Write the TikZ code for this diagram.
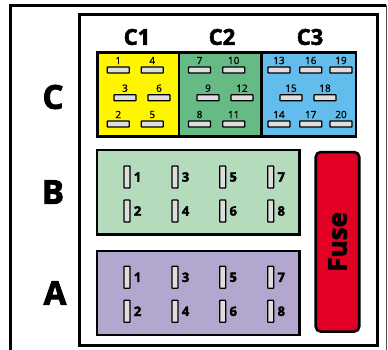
\documentclass[tikz,border=0pt]{standalone}
\usepackage{fontspec}
\setmainfont{Open Sans}
\newfontfamily\heavyfont{Open Sans}[BoldFont=*, BoldFeatures={FakeBold=0}, UprightFont=* Bold, UprightFeatures={FakeBold=2.5}]
\newfontfamily\numfont{Open Sans}[UprightFeatures={FakeBold=1}]
\usetikzlibrary{positioning}

\tikzset{
    block/.style={draw=black, line width=2.8pt},
    hslot/.style={draw=black, fill=black!13, line width=1.3pt, rounded corners=0.6pt, minimum width=22pt, minimum height=6pt, inner sep=0pt},
    vslot/.style={draw=black, fill=black!13, line width=1.3pt, rounded corners=0.6pt, minimum width=6pt, minimum height=22pt, inner sep=0pt},
    hnum/.style={inner sep=0pt, font=\numfont\fontsize{10}{10}\selectfont},
    vnum/.style={inner sep=0pt, font=\heavyfont\fontsize{13}{13}\selectfont},
    head/.style={inner sep=0pt, font=\heavyfont\fontsize{22}{22}\selectfont},
    side/.style={inner sep=0pt, font=\heavyfont\fontsize{33}{33}\selectfont}
}
\definecolor{blockyellow}{HTML}{FFF500}
\definecolor{blockgreen}{HTML}{66BB85}
\definecolor{blockblue}{HTML}{62BCEC}
\definecolor{blockmint}{HTML}{B5DBBD}
\definecolor{blocklilac}{HTML}{B4A7CF}
\definecolor{fusered}{HTML}{E30025}

\begin{document}
\begin{tikzpicture}[x=1pt, y=-1pt]
    \useasboundingbox (0,0) rectangle (388,350);

    % Outer frame, open at the bottom
    \draw[line width=3pt] (10.5,350) -- (10.5,5.5) -- (386,5.5);
    \draw[black!70, line width=1.4pt] (386.5,5) -- (386.5,350);

    % Inner frame
    \draw[line width=3pt] (79,14.5) rectangle (377,345);

    % Row C, three blocks
    \draw[block, fill=blockyellow] (97.5,52.7) rectangle (179,136.7);
    \draw[block, fill=blockgreen] (179,52.7) rectangle (261.7,136.7);
    \draw[block, fill=blockblue] (261.7,52.7) rectangle (356,136.7);

    % Row C, slots with their numbers
    \foreach \n/\x/\y in {1/118.3/70, 4/152.3/70, 3/125/97.7, 6/159/97.7, 2/118.3/124, 5/152.3/124,
                          7/199.5/70, 10/233.7/70, 9/208/97.7, 12/242/97.7, 8/199.5/124, 11/233.7/124,
                          13/279/70, 16/310.7/70, 19/341/70, 15/291/97.7, 18/325/97.7, 14/279/124, 17/310.7/124, 20/341/124} {
        \node[hslot] (slot\n) at (\x,\y) {};
        \node[hnum, above=2pt of slot\n] (num\n) {\n};
    }

    % Rows B and A
    \draw[block, fill=blockmint] (97,150) rectangle (299.5,234.5);
    \draw[block, fill=blocklilac] (97,251) rectangle (299.5,335);

    \foreach \r/\ya/\yb in {b/177/211, a/277.3/311.3} {
        \foreach \n/\x/\y in {1/127/\ya, 2/127/\yb, 3/175/\ya, 4/175/\yb, 5/222.7/\ya, 6/222.7/\yb, 7/270.7/\ya, 8/270.7/\yb} {
            \node[vslot] (pin\r\n) at (\x,\y) {};
            \node[vnum, right=3pt of pin\r\n] (lab\r\n) {\n};
        }
    }

    % Fuse
    \node[draw=black, fill=fusered, line width=2.6pt, rounded corners=5pt, minimum width=43.5pt, minimum height=179.5pt, inner sep=0pt] (fuse) at (337.5,241.8) {};
    \node[inner sep=0pt, rotate=90, font=\heavyfont\fontsize{26}{26}\selectfont] (fusetext) at (fuse.center) {Fuse};

    % Headings
    \node[head] (c1) at (137,37) {C1};
    \node[head] (c2) at (222,37) {C2};
    \node[head] (c3) at (310,37) {C3};
    \node[side] (rowc) at (53,97) {C};
    \node[side] (rowb) at (53,192) {B};
    \node[side] (rowa) at (55,293) {A};
\end{tikzpicture}
\end{document}
